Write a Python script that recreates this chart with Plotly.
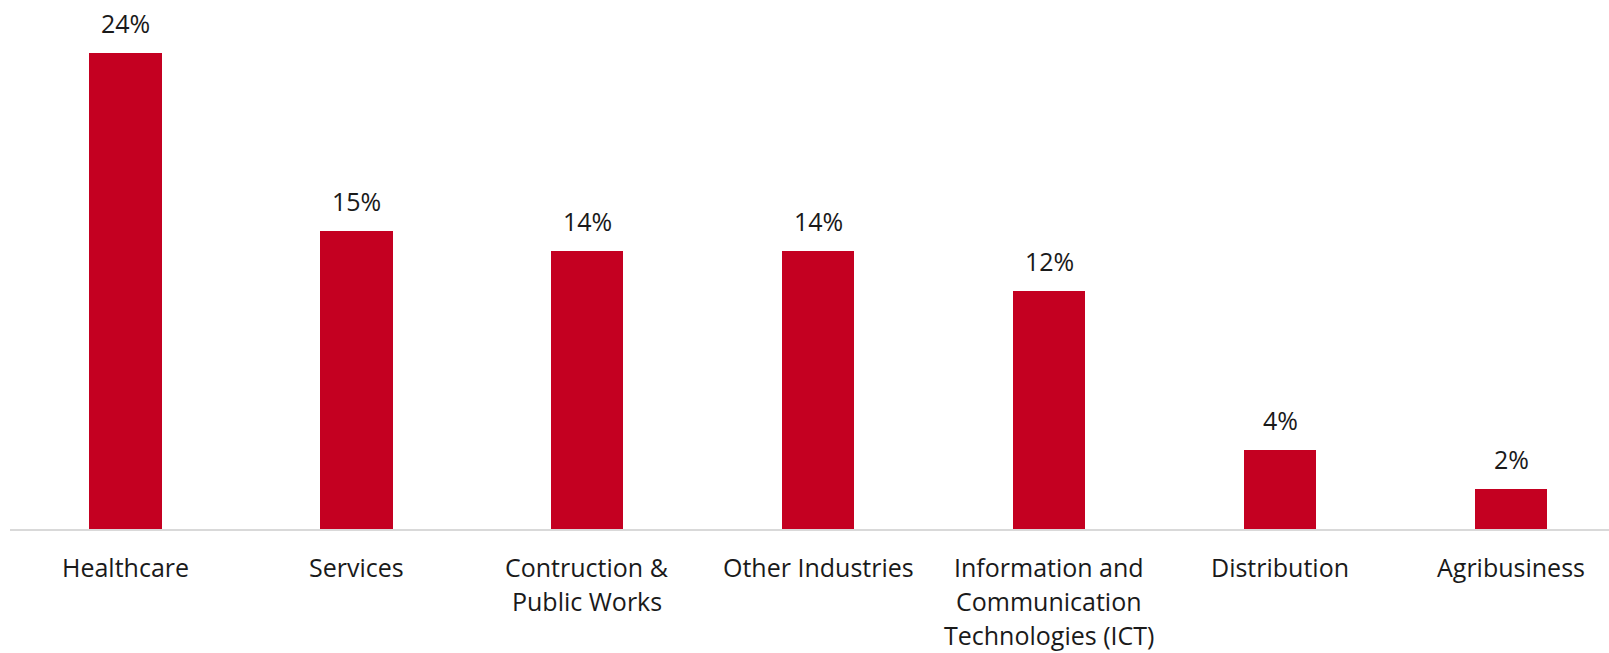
import plotly.graph_objects as go

# Sector shares (%)
categories = [
    "Healthcare",
    "Services",
    "Contruction &<br>Public Works",
    "Other Industries",
    "Information and<br>Communication<br>Technologies (ICT)",
    "Distribution",
    "Agribusiness",
]
shares = [24, 15, 14, 14, 12, 4, 2]
share_labels = [f"{v}%" for v in shares]

BAR_RED = "#C40021"
TEXT = "#1a1a1a"
FONT = "'Open Sans', sans-serif"

fig = go.Figure(
    go.Bar(
        x=list(range(len(categories))),
        y=shares,
        width=0.313,
        marker=dict(color=BAR_RED, line=dict(width=0)),
        hoverinfo="skip",
    )
)

# Value labels above each bar
for i, (v, lab) in enumerate(zip(shares, share_labels)):
    fig.add_annotation(
        x=i, y=v, text=lab, showarrow=False,
        xanchor="center", yanchor="bottom", yshift=11,
        font=dict(family=FONT, size=25, color=TEXT),
    )

# Category labels under the axis, one annotation per line for wider leading
LINE_STEP = 34
for i, cat in enumerate(categories):
    for k, line in enumerate(cat.split("<br>")):
        fig.add_annotation(
            x=i, xref="x", y=0, yref="paper", text=line, showarrow=False,
            xanchor="center", yanchor="middle", yshift=-37.5 - k * LINE_STEP,
            font=dict(family=FONT, size=25, color=TEXT),
        )

fig.update_layout(
    width=1609,
    height=653,
    margin=dict(l=9.5, r=0, t=0, b=123.5),
    paper_bgcolor="white",
    plot_bgcolor="white",
    showlegend=False,
    bargap=0,
    xaxis=dict(
        range=[-0.5, 6.424],
        showgrid=False,
        zeroline=False,
        showline=True,
        linecolor="#D9D9D9",
        linewidth=1.5,
        ticks="",
        showticklabels=False,
        fixedrange=True,
    ),
    yaxis=dict(
        range=[0, 26.67],
        visible=False,
        fixedrange=True,
    ),
)

fig.write_html("out.html")
